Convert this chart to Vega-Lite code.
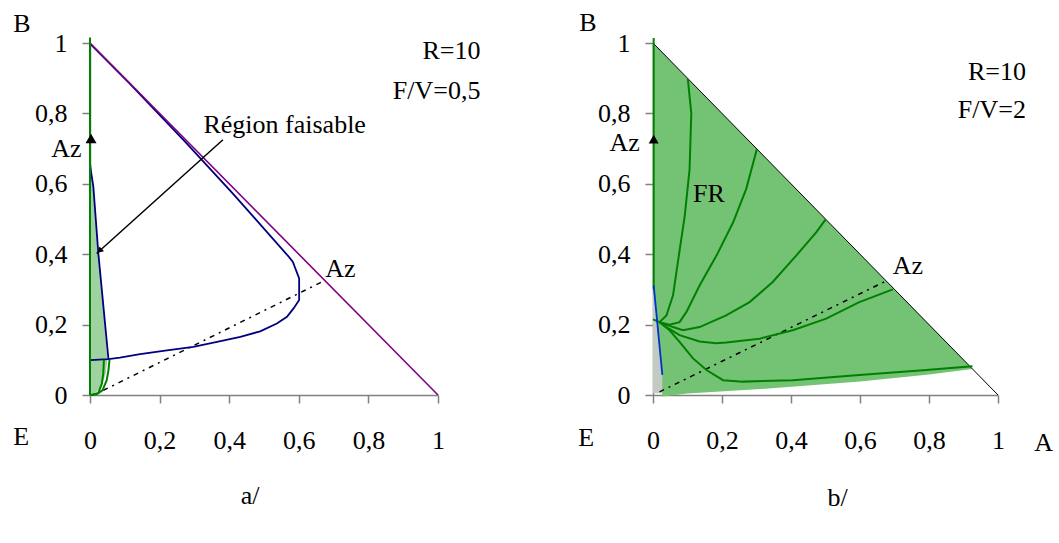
{
  "$schema": "https://vega.github.io/schema/vega-lite/v6.json",
  "background": "white",
  "padding": {"left": 13, "top": 10, "right": 0, "bottom": 0},
  "bounds": "flush",
  "spacing": 215,
  "config": {
    "font": "Liberation Serif",
    "view": {"stroke": null},
    "axis": {
      "grid": false,
      "domainColor": "#808080",
      "tickColor": "#808080",
      "domainWidth": 1.5,
      "tickWidth": 1.5,
      "tickSize": 8,
      "labelFont": "Liberation Serif",
      "labelFontSize": 26,
      "labelColor": "black",
      "labelFlush": false,
      "labelOverlap": false,
      "labelBound": false
    },
    "axisX": {"labelBaseline": "middle", "labelPadding": 37},
    "axisY": {"labelPadding": 15}
  },
  "datasets": {
    "a_fill": [
      {"y": 0.0, "x": 0.005}, {"y": 0.01, "x": 0.02}, {"y": 0.03, "x": 0.035}, {"y": 0.06, "x": 0.045},
      {"y": 0.1, "x": 0.05}, {"y": 0.2, "x": 0.042}, {"y": 0.3, "x": 0.034}, {"y": 0.4, "x": 0.024},
      {"y": 0.5, "x": 0.016}, {"y": 0.6, "x": 0.009}, {"y": 0.65, "x": 0.003}, {"y": 0.68, "x": 0.0}
    ],
    "a_green": [
      {"s": 1, "o": 1, "x": 0.056, "y": 0.1}, {"s": 1, "o": 2, "x": 0.053, "y": 0.07}, {"s": 1, "o": 3, "x": 0.048, "y": 0.042},
      {"s": 1, "o": 4, "x": 0.036, "y": 0.013}, {"s": 1, "o": 5, "x": 0.019, "y": 0.002}, {"s": 1, "o": 6, "x": 0.0, "y": 0.0},
      {"s": 2, "o": 1, "x": 0.04, "y": 0.1}, {"s": 2, "o": 2, "x": 0.038, "y": 0.06}, {"s": 2, "o": 3, "x": 0.034, "y": 0.032},
      {"s": 2, "o": 4, "x": 0.024, "y": 0.006}, {"s": 2, "o": 5, "x": 0.005, "y": 0.0}
    ],
    "a_blue": [
      {"s": 1, "o": 1, "x": 0.0, "y": 0.099}, {"s": 1, "o": 2, "x": 0.053, "y": 0.102}, {"s": 1, "o": 3, "x": 0.086, "y": 0.106},
      {"s": 1, "o": 4, "x": 0.144, "y": 0.116}, {"s": 1, "o": 5, "x": 0.221, "y": 0.127}, {"s": 1, "o": 6, "x": 0.297, "y": 0.137},
      {"s": 1, "o": 7, "x": 0.365, "y": 0.151}, {"s": 1, "o": 8, "x": 0.432, "y": 0.165}, {"s": 1, "o": 9, "x": 0.489, "y": 0.181},
      {"s": 1, "o": 10, "x": 0.537, "y": 0.203}, {"s": 1, "o": 11, "x": 0.566, "y": 0.222}, {"s": 1, "o": 12, "x": 0.585, "y": 0.246},
      {"s": 1, "o": 13, "x": 0.601, "y": 0.27}, {"s": 1, "o": 14, "x": 0.601, "y": 0.331}, {"s": 1, "o": 15, "x": 0.583, "y": 0.378},
      {"s": 1, "o": 16, "x": 0.571, "y": 0.393}, {"s": 1, "o": 17, "x": 0.41, "y": 0.573}, {"s": 1, "o": 18, "x": 0.273, "y": 0.72},
      {"s": 1, "o": 19, "x": 0.115, "y": 0.884}, {"s": 1, "o": 20, "x": 0.0, "y": 0.998},
      {"s": 2, "o": 1, "x": 0.053, "y": 0.102}, {"s": 2, "o": 2, "x": 0.024, "y": 0.402}, {"s": 2, "o": 3, "x": 0.0096, "y": 0.592},
      {"s": 2, "o": 4, "x": 0.002, "y": 0.64}, {"s": 2, "o": 5, "x": 0.0, "y": 0.66}
    ],
    "a_purple": [{"x": 0, "y": 1}, {"x": 1, "y": 0}],
    "a_dotted": [{"x": 0.038, "y": 0.013}, {"x": 0.676, "y": 0.326}],
    "a_arrow": [{"x": 0.382, "y": 0.725}, {"x": 0.019, "y": 0.402}],
    "a_head": [{"x": 0.0276, "y": 0.4096}],
    "a_tri": [{"x": 0.003, "y": 0.729}],
    "a_text_left": [
      {"t": "Région faisable", "x": 0.326, "y": 0.744},
      {"t": "Az", "x": 0.676, "y": 0.336},
      {"t": "B", "x": -0.2207, "y": 1.031},
      {"t": "E", "x": -0.2207, "y": -0.143}
    ],
    "a_text_right": [
      {"t": "R=10", "x": 1.122, "y": 0.955},
      {"t": "F/V=0,5", "x": 1.122, "y": 0.842},
      {"t": "Az", "x": -0.024, "y": 0.676}
    ],
    "a_text_center": [{"t": "a/", "x": 0.46, "y": -0.311}],
    "b_fill": [
      {"x": 0.0, "top": 1.0, "bot": 0.31}, {"x": 0.027, "top": 0.973, "bot": -0.004}, {"x": 0.1, "top": 0.9, "bot": 0.004},
      {"x": 0.3, "top": 0.7, "bot": 0.016}, {"x": 0.6, "top": 0.4, "bot": 0.038}, {"x": 0.8, "top": 0.2, "bot": 0.058},
      {"x": 0.926, "top": 0.074, "bot": 0.074}
    ],
    "b_strip": [
      {"x": 0.0, "top": 0.31, "bot": 0.005}, {"x": 0.027, "top": 0.057, "bot": 0.005}
    ],
    "b_hyp": [{"x": 0, "y": 1}, {"x": 1, "y": 0}],
    "b_dotted": [{"x": 0.019, "y": 0.009}, {"x": 0.68, "y": 0.326}],
    "b_blue": [{"x": 0.002, "y": 0.311}, {"x": 0.027, "y": 0.057}],
    "b_green": [
      {"s": "a", "o": 1, "x": 0.019, "y": 0.207}, {"s": "a", "o": 2, "x": 0.039, "y": 0.226}, {"s": "a", "o": 3, "x": 0.058, "y": 0.283},
      {"s": "a", "o": 4, "x": 0.072, "y": 0.377}, {"s": "a", "o": 5, "x": 0.092, "y": 0.509}, {"s": "a", "o": 6, "x": 0.106, "y": 0.641},
      {"s": "a", "o": 7, "x": 0.111, "y": 0.8}, {"s": "a", "o": 8, "x": 0.101, "y": 0.898},
      {"s": "b", "o": 1, "x": 0.019, "y": 0.207}, {"s": "b", "o": 2, "x": 0.048, "y": 0.2}, {"s": "b", "o": 3, "x": 0.077, "y": 0.207},
      {"s": "b", "o": 4, "x": 0.097, "y": 0.236}, {"s": "b", "o": 5, "x": 0.135, "y": 0.311}, {"s": "b", "o": 6, "x": 0.184, "y": 0.396},
      {"s": "b", "o": 7, "x": 0.232, "y": 0.49}, {"s": "b", "o": 8, "x": 0.27, "y": 0.585}, {"s": "b", "o": 9, "x": 0.301, "y": 0.698},
      {"s": "c", "o": 1, "x": 0.019, "y": 0.207}, {"s": "c", "o": 2, "x": 0.058, "y": 0.193}, {"s": "c", "o": 3, "x": 0.087, "y": 0.184},
      {"s": "c", "o": 4, "x": 0.135, "y": 0.193}, {"s": "c", "o": 5, "x": 0.212, "y": 0.226}, {"s": "c", "o": 6, "x": 0.28, "y": 0.264},
      {"s": "c", "o": 7, "x": 0.347, "y": 0.321}, {"s": "c", "o": 8, "x": 0.415, "y": 0.396}, {"s": "c", "o": 9, "x": 0.473, "y": 0.462},
      {"s": "c", "o": 10, "x": 0.5, "y": 0.498},
      {"s": "d", "o": 1, "x": 0.019, "y": 0.207}, {"s": "d", "o": 2, "x": 0.039, "y": 0.193}, {"s": "d", "o": 3, "x": 0.077, "y": 0.17},
      {"s": "d", "o": 4, "x": 0.135, "y": 0.152}, {"s": "d", "o": 5, "x": 0.183, "y": 0.147}, {"s": "d", "o": 6, "x": 0.212, "y": 0.149},
      {"s": "d", "o": 7, "x": 0.309, "y": 0.16}, {"s": "d", "o": 8, "x": 0.405, "y": 0.184}, {"s": "d", "o": 9, "x": 0.502, "y": 0.217},
      {"s": "d", "o": 10, "x": 0.598, "y": 0.264}, {"s": "d", "o": 11, "x": 0.695, "y": 0.3},
      {"s": "e", "o": 1, "x": 0.019, "y": 0.207}, {"s": "e", "o": 2, "x": 0.048, "y": 0.184}, {"s": "e", "o": 3, "x": 0.077, "y": 0.151},
      {"s": "e", "o": 4, "x": 0.116, "y": 0.104}, {"s": "e", "o": 5, "x": 0.155, "y": 0.071}, {"s": "e", "o": 6, "x": 0.203, "y": 0.042},
      {"s": "e", "o": 7, "x": 0.261, "y": 0.038}, {"s": "e", "o": 8, "x": 0.405, "y": 0.042}, {"s": "e", "o": 9, "x": 0.598, "y": 0.057},
      {"s": "e", "o": 10, "x": 0.792, "y": 0.071}, {"s": "e", "o": 11, "x": 0.926, "y": 0.082},
      {"s": "f", "o": 1, "x": 0.0, "y": 0.215}, {"s": "f", "o": 2, "x": 0.019, "y": 0.207},
      {"s": "g", "o": 1, "x": 0.002, "y": 0.3}, {"s": "g", "o": 2, "x": 0.002, "y": 1.014}
    ],
    "b_tri": [{"x": 0.002, "y": 0.727}],
    "b_text_left": [
      {"t": "Az", "x": 0.695, "y": 0.344},
      {"t": "FR", "x": 0.116, "y": 0.547},
      {"t": "B", "x": -0.214, "y": 1.033},
      {"t": "E", "x": -0.217, "y": -0.146},
      {"t": "A", "x": 1.105, "y": -0.16}
    ],
    "b_text_right": [
      {"t": "R=10", "x": 1.081, "y": 0.896},
      {"t": "F/V=2", "x": 1.081, "y": 0.788},
      {"t": "Az", "x": -0.0385, "y": 0.693}
    ],
    "b_text_center": [{"t": "b/", "x": 0.535, "y": -0.314}]
  },
  "hconcat": [
    {
      "width": 348,
      "height": 352,
      "encoding": {
        "x": {"field": "x", "type": "quantitative", "scale": {"domain": [0, 1], "nice": false, "zero": false},
          "axis": {"title": null, "values": [0, 0.2, 0.4, 0.6, 0.8, 1], "labelExpr": "replace(toString(datum.value), '.', ',')"}},
        "y": {"field": "y", "type": "quantitative", "scale": {"domain": [0, 1], "nice": false, "zero": false},
          "axis": {"title": null, "values": [0, 0.2, 0.4, 0.6, 0.8, 1], "labelExpr": "replace(toString(datum.value), '.', ',')"}}
      },
      "layer": [
        {
          "data": {"name": "a_fill"},
          "mark": {"type": "area", "orient": "horizontal", "color": "#9ed29e", "opacity": 1},
          "encoding": {"x2": {"datum": 0}}
        },
        {
          "data": {"name": "a_dotted"},
          "mark": {"type": "line", "color": "black", "strokeWidth": 1.5, "strokeDash": [5, 5, 2, 5]},
          "encoding": {}
        },
        {
          "data": {"name": "a_blue"},
          "mark": {"type": "line", "color": "#000080", "strokeWidth": 1.8},
          "encoding": {"detail": {"field": "s", "type": "nominal"}, "order": {"field": "o", "type": "quantitative"}}
        },
        {
          "data": {"name": "a_purple"},
          "mark": {"type": "line", "color": "#800080", "strokeWidth": 1.6},
          "encoding": {}
        },
        {
          "data": {"name": "a_green"},
          "mark": {"type": "line", "color": "#008000", "strokeWidth": 2},
          "encoding": {"detail": {"field": "s", "type": "nominal"}, "order": {"field": "o", "type": "quantitative"}}
        },
        {
          "data": {"name": "a_purple"},
          "mark": {"type": "rule", "color": "#008000", "strokeWidth": 2},
          "encoding": {"x": {"datum": 0}, "y": {"datum": 0}, "y2": {"datum": 1.015}}
        },
        {
          "data": {"name": "a_arrow"},
          "mark": {"type": "line", "color": "black", "strokeWidth": 1.5},
          "encoding": {}
        },
        {
          "data": {"name": "a_head"},
          "mark": {"type": "point", "shape": "triangle-up", "filled": true, "color": "black", "size": 45, "angle": 228, "opacity": 1},
          "encoding": {}
        },
        {
          "data": {"name": "a_tri"},
          "mark": {"type": "point", "shape": "triangle-up", "filled": true, "color": "black", "size": 120, "opacity": 1},
          "encoding": {}
        },
        {
          "data": {"name": "a_text_left"},
          "mark": {"type": "text", "align": "left", "baseline": "alphabetic", "fontSize": 26, "font": "Liberation Serif", "color": "black"},
          "encoding": {"text": {"field": "t"}}
        },
        {
          "data": {"name": "a_text_right"},
          "mark": {"type": "text", "align": "right", "baseline": "alphabetic", "fontSize": 26, "font": "Liberation Serif", "color": "black"},
          "encoding": {"text": {"field": "t"}}
        },
        {
          "data": {"name": "a_text_center"},
          "mark": {"type": "text", "align": "center", "baseline": "alphabetic", "fontSize": 26, "font": "Liberation Serif", "color": "black"},
          "encoding": {"text": {"field": "t"}}
        }
      ]
    },
    {
      "width": 345,
      "height": 352,
      "encoding": {
        "x": {"field": "x", "type": "quantitative", "scale": {"domain": [0, 1], "nice": false, "zero": false},
          "axis": {"title": null, "values": [0, 0.2, 0.4, 0.6, 0.8, 1], "labelExpr": "replace(toString(datum.value), '.', ',')"}},
        "y": {"field": "y", "type": "quantitative", "scale": {"domain": [0, 1], "nice": false, "zero": false},
          "axis": {"title": null, "values": [0, 0.2, 0.4, 0.6, 0.8, 1], "labelExpr": "replace(toString(datum.value), '.', ',')"}}
      },
      "layer": [
        {
          "data": {"name": "b_fill"},
          "mark": {"type": "area", "color": "#74c274", "opacity": 1},
          "encoding": {"y": {"field": "top", "type": "quantitative"}, "y2": {"field": "bot"}}
        },
        {
          "data": {"name": "b_strip"},
          "mark": {"type": "area", "color": "#c2cbc2", "opacity": 1},
          "encoding": {"y": {"field": "top", "type": "quantitative"}, "y2": {"field": "bot"}}
        },
        {
          "data": {"name": "b_hyp"},
          "mark": {"type": "line", "color": "black", "strokeWidth": 1},
          "encoding": {}
        },
        {
          "data": {"name": "b_dotted"},
          "mark": {"type": "line", "color": "black", "strokeWidth": 1.5, "strokeDash": [5, 5, 2, 5]},
          "encoding": {}
        },
        {
          "data": {"name": "b_green"},
          "mark": {"type": "line", "color": "#008000", "strokeWidth": 2},
          "encoding": {"detail": {"field": "s", "type": "nominal"}, "order": {"field": "o", "type": "quantitative"}}
        },
        {
          "data": {"name": "b_blue"},
          "mark": {"type": "line", "color": "#0033cc", "strokeWidth": 1.8},
          "encoding": {}
        },
        {
          "data": {"name": "b_tri"},
          "mark": {"type": "point", "shape": "triangle-up", "filled": true, "color": "black", "size": 100, "opacity": 1},
          "encoding": {}
        },
        {
          "data": {"name": "b_text_left"},
          "mark": {"type": "text", "align": "left", "baseline": "alphabetic", "fontSize": 26, "font": "Liberation Serif", "color": "black"},
          "encoding": {"text": {"field": "t"}}
        },
        {
          "data": {"name": "b_text_right"},
          "mark": {"type": "text", "align": "right", "baseline": "alphabetic", "fontSize": 26, "font": "Liberation Serif", "color": "black"},
          "encoding": {"text": {"field": "t"}}
        },
        {
          "data": {"name": "b_text_center"},
          "mark": {"type": "text", "align": "center", "baseline": "alphabetic", "fontSize": 26, "font": "Liberation Serif", "color": "black"},
          "encoding": {"text": {"field": "t"}}
        }
      ]
    }
  ]
}
